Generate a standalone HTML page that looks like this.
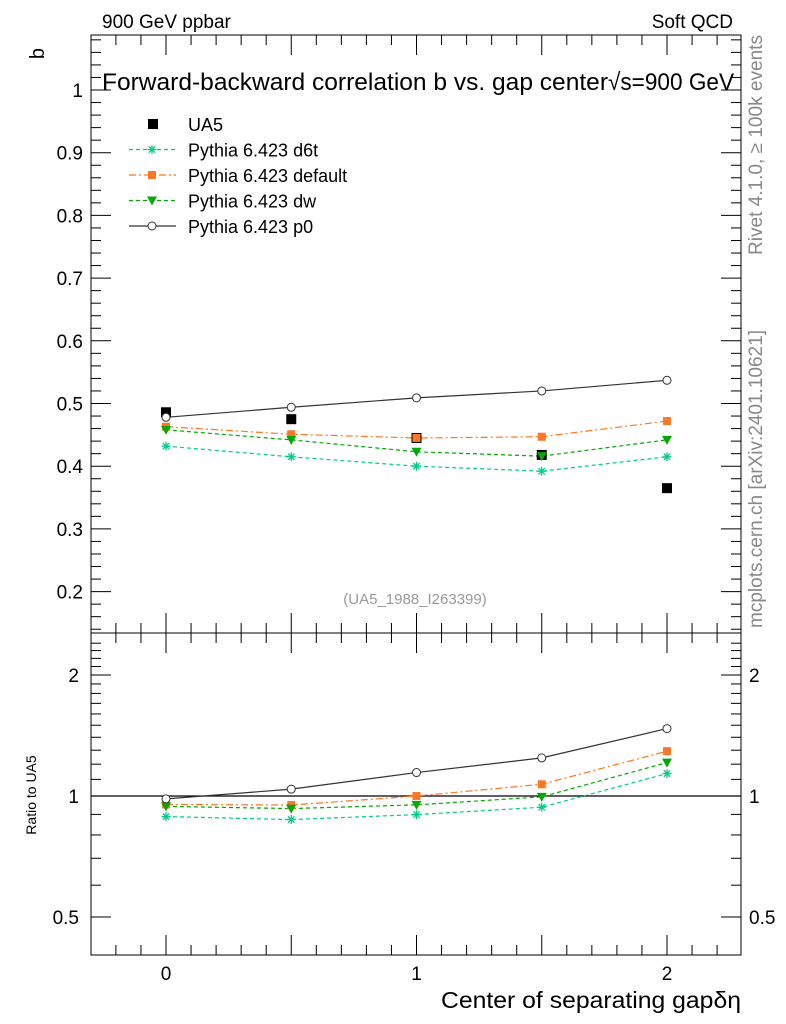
<!DOCTYPE html>
<html><head><meta charset="utf-8"><style>
body{margin:0;background:#fff;}
svg{display:block;font-family:"Liberation Sans",sans-serif;}
</style></head><body>
<svg id="c" width="786" height="1024" xmlns="http://www.w3.org/2000/svg">
<text x="102" y="28" font-size="19">900 GeV ppbar</text>
<text x="733" y="28" font-size="19" text-anchor="end">Soft QCD</text>
<text x="44" y="48" font-size="20" transform="rotate(-90 44 48)" text-anchor="end">b</text>
<text x="102" y="90" font-size="24" textLength="506" lengthAdjust="spacingAndGlyphs">Forward-backward correlation b  vs. gap center</text>
<text x="608" y="90" font-size="24" textLength="126" lengthAdjust="spacingAndGlyphs">√s=900 GeV</text>
<text x="762" y="255" font-size="19" fill="#888" textLength="220" lengthAdjust="spacingAndGlyphs" transform="rotate(-90 762 255)">Rivet 4.1.0, ≥ 100k events</text>
<text x="762" y="628" font-size="19" fill="#888" textLength="298" lengthAdjust="spacingAndGlyphs" transform="rotate(-90 762 628)">mcplots.cern.ch [arXiv:2401.10621]</text>
<text x="415" y="604" font-size="15" fill="#999" text-anchor="middle">(UA5_1988_I263399)</text>
<text x="36" y="795" font-size="14" transform="rotate(-90 36 795)" text-anchor="middle">Ratio to UA5</text>
<text x="441" y="1008" font-size="23" textLength="300" lengthAdjust="spacingAndGlyphs">Center of separating gapδη</text>
<g id="g"></g>
</svg>
<script>
const xs=[0,0.5,1,1.5,2];
const ua5=[0.486,0.475,0.445,0.418,0.365];
const d6t=[0.432,0.415,0.400,0.392,0.415];
const def=[0.463,0.451,0.445,0.447,0.472];
const dw=[0.458,0.442,0.423,0.416,0.442];
const p0=[0.478,0.494,0.509,0.520,0.537];
const yTicks=[0.2,0.3,0.4,0.5,0.6,0.7,0.8,0.9,1];
const yTickLabels=["0.2","0.3","0.4","0.5","0.6","0.7","0.8","0.9","1"];
const rTicks=[0.5,1,2];
const rTickLabels=["0.5","1","2"];
const xTicks=[0,1,2];
const xTickLabels=["0","1","2"];
const NS="http://www.w3.org/2000/svg";
const g=document.getElementById('g');
const L=91,R=741,T=35,M=633,B=955;
const X=v=>166+v*250.5;
const Y=v=>90+(1-v)*627;
const RY=v=>796-Math.log2(v)*121;
function el(t,a,p){const e=document.createElementNS(NS,t);for(const k in a)e.setAttribute(k,a[k]);(p||g).appendChild(e);return e;}
function ln(x1,y1,x2,y2,c,w){return el('line',{x1,y1,x2,y2,stroke:c||'#000','stroke-width':w||1});}
let f=el('rect',{x:L,y:T,width:R-L,height:M-T,fill:'none',stroke:'#000'});


f=el('rect',{x:L,y:M,width:R-L,height:B-M,fill:'none',stroke:'#000'});


for(let v=0.14;v<1.09;v+=0.02){const y=Y(v);if(y<T||y>M)continue;const maj=Math.abs(v*10-Math.round(v*10))<1e-6;const l=maj?20:10;ln(L,y,L+l,y);ln(R,y,R-l,y);}
yTicks.forEach((v,i)=>{const t=el('text',{x:L-8,y:Y(v)+7,'font-size':19,'text-anchor':'end'});t.textContent=yTickLabels[i];

});
for(let v=0.4;v<=2.5;v+=0.1){const y=RY(v);if(y<M||y>B)continue;const maj=[0.5,1,2].some(m=>Math.abs(m-v)<1e-6);const l=maj?20:10;ln(L,y,L+l,y);ln(R,y,R-l,y);}
rTicks.forEach((v,i)=>{let t=el('text',{x:L-12,y:RY(v)+7,'font-size':19,'text-anchor':'end'});t.textContent=rTickLabels[i];


t=el('text',{x:R+8,y:RY(v)+7,'font-size':19});t.textContent=rTickLabels[i];

});
ln(L,RY(1),R,RY(1),'#000',1.2);
for(let v=-0.2;v<=2.3;v+=0.1){const x=X(v);if(x<L||x>R)continue;const maj=Math.abs(v*2-Math.round(v*2))<1e-6;const l=maj?20:10;[T,M].forEach(y0=>{ln(x,y0,x,y0+l);});[M,B].forEach(y0=>{ln(x,y0,x,y0-l);});}
xTicks.forEach((v,i)=>{const t=el('text',{x:X(v),y:980,'font-size':19,'text-anchor':'middle'});t.textContent=xTickLabels[i];

});
function marker(type,x,y,c){
 if(type==='sq')return el('rect',{x:x-5,y:y-5,width:10,height:10,fill:c});
 if(type==='osq')return el('rect',{x:x-4,y:y-4,width:8,height:8,fill:c});
 if(type==='tri')return el('path',{d:`M${x-5},${y-4}L${x+5},${y-4}L${x},${y+5}Z`,fill:c});
 if(type==='circ')return el('circle',{cx:x,cy:y,r:4,fill:'#fff',stroke:c,'stroke-width':1});
 if(type==='star'){const gg=el('g',{stroke:c,'stroke-width':1.3});[0,45,90,135].forEach(a=>{const r=4.5,dx=r*Math.cos(a*Math.PI/180),dy=r*Math.sin(a*Math.PI/180);ln(x-dx,y-dy,x+dx,y+dy,c,1.3);});return gg;}
}
const series=[
 {name:'d6t',v:d6t,c:'#00cc88',dash:'4,3',m:'star'},
 {name:'default',v:def,c:'#ff7722',dash:'7,3,2,3',m:'osq'},
 {name:'dw',v:dw,c:'#00aa00',dash:'4,3',m:'tri'},
 {name:'p0',v:p0,c:'#333',dash:'',m:'circ'}];
series.forEach(s=>{
 let p=el('polyline',{points:xs.map((x,i)=>X(x)+','+Y(s.v[i])).join(' '),fill:'none',stroke:s.c,'stroke-width':1.2,'stroke-dasharray':s.dash});
 
 
 p=el('polyline',{points:xs.map((x,i)=>X(x)+','+RY(s.v[i]/ua5[i])).join(' '),fill:'none',stroke:s.c,'stroke-width':1.2,'stroke-dasharray':s.dash});
 
 
});
xs.forEach((x,i)=>{const m=marker('sq',X(x),Y(ua5[i]),'#000');

});
series.forEach(s=>{xs.forEach((x,i)=>{let m=marker(s.m,X(x),Y(s.v[i]),s.c);


m=marker(s.m,X(x),RY(s.v[i]/ua5[i]),s.c);

});});
const leg=[['UA5',null],['Pythia 6.423 d6t',series[0]],['Pythia 6.423 default',series[1]],['Pythia 6.423 dw',series[2]],['Pythia 6.423 p0',series[3]]];
leg.forEach((e,i)=>{const y=124+i*25.5;
 if(!e[1]){marker('sq',153,y,'#000');}
 else{ln(129,y,176,y,e[1].c,1.2).setAttribute('stroke-dasharray',e[1].dash);marker(e[1].m,152,y,e[1].c);}
 const t=el('text',{x:188,y:y+7,'font-size':18});t.textContent=e[0];
 
 });
</script>
</body></html>
